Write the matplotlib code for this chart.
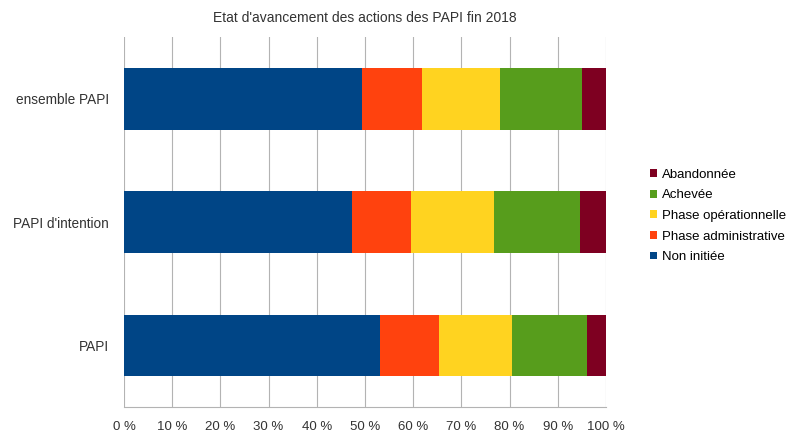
import matplotlib
matplotlib.use("Agg")
import matplotlib.pyplot as plt
from matplotlib.ticker import FuncFormatter
import numpy as np

plt.rcParams['font.family'] = ['Liberation Sans', 'DejaVu Sans']

categories = ["PAPI", "PAPI d'intention", "ensemble PAPI"]
series_names = ["Non initiée", "Phase administrative", "Phase opérationnelle", "Achevée", "Abandonnée"]
non_initiee = [53.2, 47.4, 49.4]
phase_admin = [12.2, 12.1, 12.4]
phase_oper = [15.0, 17.3, 16.2]
achevee = [15.6, 17.9, 17.1]
abandonnee = [4.0, 5.3, 4.9]
colors = ["#004586", "#ff420e", "#ffd320", "#579d1c", "#7e0021"]
xticks = list(range(0, 101, 10))
title = "Etat d'avancement des actions des PAPI fin 2018"

fig = plt.figure(figsize=(7.93, 4.36), dpi=100)
ax = fig.add_axes([124/793, 1-407/436, (606-124)/793, (407-37)/436])

data = [non_initiee, phase_admin, phase_oper, achevee, abandonnee]
y = np.arange(len(categories))
left = np.zeros(len(categories))
handles = []
for name, vals, c in zip(series_names, data, colors):
    h = ax.barh(y, vals, left=left, height=0.5, color=c, label=name, zorder=3)
    handles.append(h)
    left += np.array(vals)

ax.set_xlim(0, 100)
ax.set_ylim(-0.5, 2.5)
ax.set_xticks(xticks)
ax.xaxis.set_major_formatter(FuncFormatter(lambda v, p: f"{int(v)} %"))
ax.set_yticks(y)
ax.set_yticklabels(categories)
ax.tick_params(axis='y', labelsize=9.8, labelcolor='#333333', length=0, pad=11)
ax.tick_params(axis='x', labelsize=9.5, labelcolor='#333333', length=0, pad=10)
ax.grid(axis='x', color='#b3b3b3', linewidth=0.8, zorder=0)
for s in ['top', 'right', 'left']:
    ax.spines[s].set_visible(False)
ax.spines['bottom'].set_color('#b3b3b3')
ax.set_title(title, fontsize=10, color='#333333', pad=11)

leg = fig.legend(handles[::-1], series_names[::-1], loc='upper left',
                 bbox_to_anchor=(638/793, 1-157/436), frameon=False, fontsize=9.5,
                 handlelength=0.55, handleheight=0.55, handletextpad=0.4, labelspacing=0.65)

fig.savefig("out.png", dpi=100, facecolor='white')
